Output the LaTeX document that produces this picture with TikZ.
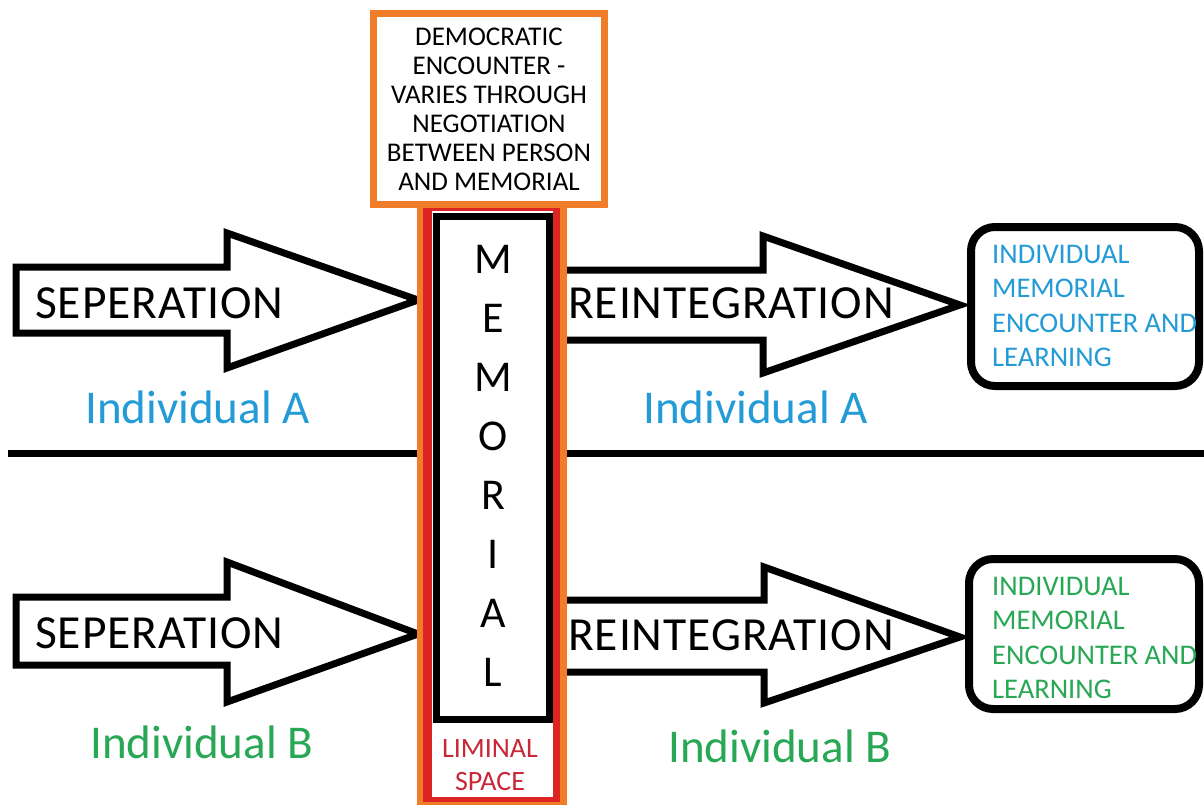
\documentclass[tikz,border=0pt]{standalone}
\usepackage{fontspec}
\setmainfont{Carlito}
\newfontfamily\spacedfont[LetterSpace=2.0]{Carlito}
\definecolor{blueT}{RGB}{35,155,215}
\definecolor{greenT}{RGB}{40,168,85}
\definecolor{orangeC}{RGB}{242,125,40}
\definecolor{redC}{RGB}{222,35,35}
\definecolor{limRed}{RGB}{200,40,55}
\begin{document}
\begin{tikzpicture}[x=1pt,y=-1pt,
  blk/.style={line width=7pt, draw=black, fill=white, line join=miter},
  big/.style={font=\fontsize{47}{56}\selectfont, inner sep=0pt, anchor=base west},
  stage/.style={font=\spacedfont\fontsize{47.5}{56}\selectfont, inner sep=0pt, anchor=base west},
  outbox/.style={draw=black, line width=8pt, rounded corners=24pt, fill=white, inner sep=0pt},
  boxtext/.style={font=\fontsize{28.5}{34.6}\selectfont, align=left, anchor=north west, inner sep=0pt}]
\useasboundingbox (0,0) rectangle (1204,805);
\clip (0,0) rectangle (1204,805);
\fill[white] (0,0) rectangle (1204,805);
% divider
\coordinate (divL) at (8,453.5);
\coordinate (divR) at (1204,453.5);
\draw[line width=7pt] (divL) -- (divR);
% arrows
\draw[blk] (16,267) -- (227,267) -- (227,233) -- (418,300) -- (227,368) -- (227,333) -- (16,333) -- cycle;
\draw[blk] (560,270) -- (763,270) -- (763,236) -- (960,305) -- (763,373) -- (763,340) -- (560,340);
\draw[blk] (16,597) -- (227,597) -- (227,562) -- (418,634) -- (227,702) -- (227,665) -- (16,665) -- cycle;
\draw[blk] (560,600) -- (764,600) -- (764,567) -- (960,637) -- (764,703) -- (764,672) -- (560,672);
% memorial column
\fill[orangeC] (417,205) rectangle (567,815);
\fill[redC] (423,207) rectangle (560,802);
\fill[white] (432,211) rectangle (553,797);
\node[draw=black, line width=7pt, minimum width=113pt, minimum height=503pt, inner sep=0pt] (mem) at (493,468) {};
\node[font=\fontsize{44}{59.1}\selectfont, align=center, anchor=north, inner sep=0pt] (memtxt) at (493,244.7) {M\\E\\M\\O\\R\\I\\A\\L};
\node[font=\fontsize{28}{33}\selectfont, text=limRed, align=center, anchor=north, inner sep=0pt] (lim) at (490,739) {LIMINAL\\SPACE};
% top box
\node[draw=orangeC, line width=7pt, fill=white, minimum width=231pt, minimum height=191pt, inner sep=0pt] (demobox) at (489,109) {};
\node[font=\fontsize{27}{29}\selectfont, align=center, anchor=north, inner sep=0pt] (demo) at (489,27.6) {DEMOCRATIC\\ENCOUNTER -\\VARIES THROUGH\\NEGOTIATION\\BETWEEN PERSON\\AND MEMORIAL};
% labels
\node[stage] (sepA) at (35,318) {SEPERATION};
\node[stage] (sepB) at (35,648) {SEPERATION};
\node[stage] (reiA) at (568,318) {REINTEGRATION};
\node[stage] (reiB) at (568,650) {REINTEGRATION};
\node[big, text=blueT] (indAL) at (85,423) {Individual A};
\node[big, text=blueT] (indAR) at (643,423) {Individual A};
\node[big, text=greenT] (indBL) at (90,758) {Individual B};
\node[big, text=greenT] (indBR) at (668,762) {Individual B};
% outcome boxes
\node[outbox, minimum width=228pt, minimum height=159pt] (outA) at (1085,306.5) {};
\node[outbox, minimum width=230pt, minimum height=150pt] (outB) at (1084,634) {};
\node[boxtext, text=blueT] (txtA) at (992,244.6) {INDIVIDUAL\\MEMORIAL\\ENCOUNTER AND\\LEARNING};
\node[boxtext, text=greenT] (txtB) at (992,576.6) {INDIVIDUAL\\MEMORIAL\\ENCOUNTER AND\\LEARNING};
\end{tikzpicture}
\end{document}
